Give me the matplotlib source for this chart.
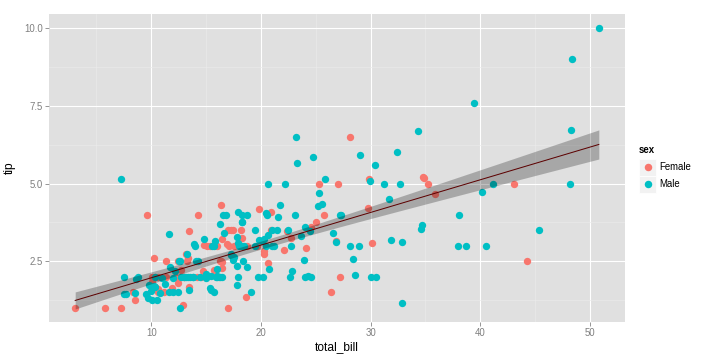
import numpy as np
import matplotlib
matplotlib.use("Agg")
import matplotlib.pyplot as plt
from matplotlib.patches import Rectangle

plt.rcParams['font.family'] = ['Liberation Sans', 'DejaVu Sans']

total_bill = [16.99,10.34,21.01,23.68,24.59,25.29,8.77,26.88,15.04,14.78,10.27,35.26,15.42,18.43,14.83,21.58,10.33,16.29,16.97,20.65,
17.92,20.29,15.77,39.42,19.82,17.81,13.37,12.69,21.70,19.65,9.55,18.35,15.06,20.69,17.78,24.06,16.31,16.93,18.69,31.27,
16.04,17.46,13.94,9.68,30.40,18.29,22.23,32.40,28.55,18.04,12.54,10.29,34.81,9.94,25.56,19.49,38.01,26.41,11.24,48.27,
20.29,13.81,11.02,18.29,17.59,20.08,16.45,3.07,20.23,15.01,12.02,17.07,26.86,25.28,14.73,10.51,17.92,27.20,22.76,17.29,
19.44,16.66,10.07,32.68,15.98,34.83,13.03,18.28,24.71,21.16,28.97,22.49,5.75,16.32,22.75,40.17,27.28,12.03,21.01,12.46,
11.35,15.38,44.30,22.42,20.92,15.36,20.49,25.21,18.24,14.31,14.00,7.25,38.07,23.95,25.71,17.31,29.93,10.65,12.43,24.08,
11.69,13.42,14.26,15.95,12.48,29.80,8.52,14.52,11.38,22.82,19.08,20.27,11.17,12.26,18.26,8.51,10.33,14.15,16.00,13.16,
17.47,34.30,41.19,27.05,16.43,8.35,18.64,11.87,9.78,7.51,14.07,13.13,17.26,24.55,19.77,29.85,48.17,25.00,13.39,16.49,
21.50,12.66,16.21,13.81,17.51,24.52,20.76,31.71,10.59,10.63,50.81,15.81,7.25,31.85,16.82,32.90,17.89,14.48,9.60,34.63,
34.65,23.33,45.35,23.17,40.55,20.69,20.90,30.46,18.15,23.10,15.69,19.81,28.44,15.48,16.58,7.56,10.34,43.11,13.00,13.51,
18.71,12.74,13.00,16.40,20.53,16.47,26.59,38.73,24.27,12.76,30.06,25.89,48.33,13.27,28.17,12.90,28.15,11.59,7.74,30.14,
12.16,13.42,8.58,15.98,13.42,16.27,10.09,20.45,13.28,22.12,24.01,15.69,11.61,10.77,15.53,10.07,12.60,32.83,35.83,29.03,
27.18,22.67,17.82,18.78]

tip = [1.01,1.66,3.50,3.31,3.61,4.71,2.00,3.12,1.96,3.23,1.71,5.00,1.57,3.00,3.02,3.92,1.67,3.71,3.50,3.35,
4.08,2.75,2.23,7.58,3.18,2.34,2.00,2.00,4.30,3.00,1.45,2.50,3.00,2.45,3.27,3.60,2.00,3.07,2.31,5.00,
2.24,2.54,3.06,1.32,5.60,3.00,5.00,6.00,2.05,3.00,2.50,2.60,5.20,1.56,4.34,3.51,3.00,1.50,1.76,6.73,
3.21,2.00,1.98,3.76,2.64,3.15,2.47,1.00,2.01,2.09,1.97,3.00,3.14,5.00,2.20,1.25,3.08,4.00,3.00,2.71,
3.00,3.40,1.83,5.00,2.03,5.17,2.00,4.00,5.85,3.00,3.00,3.50,1.00,4.30,3.25,4.73,4.00,1.50,3.00,1.50,
2.50,3.00,2.50,3.48,4.08,1.64,4.06,4.29,3.76,4.00,3.00,1.00,4.00,2.55,4.00,3.50,5.07,1.50,1.80,2.92,
2.31,1.68,2.50,2.00,2.52,4.20,1.48,2.00,2.00,2.18,1.50,2.83,1.50,2.00,3.25,1.25,2.00,2.00,2.00,2.75,
3.50,6.70,5.00,5.00,2.30,1.50,1.36,1.63,1.73,2.00,2.50,2.00,2.74,2.00,2.00,5.14,5.00,3.75,2.61,2.00,
3.50,2.50,2.00,2.00,3.00,3.48,2.24,4.50,1.61,2.00,10.00,3.16,5.15,3.18,4.00,3.11,2.00,2.00,4.00,3.55,
3.68,5.65,3.50,6.50,3.00,5.00,3.50,2.00,3.50,4.00,1.50,4.19,2.56,2.02,4.00,1.44,2.00,5.00,2.00,2.00,
4.00,2.01,2.00,2.50,4.00,3.23,3.41,3.00,2.03,2.23,2.00,5.16,9.00,2.50,6.50,1.10,3.00,1.50,1.44,3.09,
2.20,3.48,1.92,3.00,1.58,2.50,2.00,3.00,2.72,2.88,2.00,3.00,3.39,1.47,3.00,1.25,1.00,1.17,4.67,5.92,
2.00,2.00,1.75,3.00]

F, M = "Female", "Male"
sex = [F,M,M,M,F,M,M,M,M,M,M,F,M,M,F,M,F,M,F,M,
M,F,F,M,M,M,M,M,M,F,M,M,F,F,M,M,M,F,M,M,
M,M,M,M,M,M,M,M,M,M,M,F,F,M,M,M,M,F,M,M,
M,M,M,M,M,M,F,F,M,M,M,F,F,F,F,M,M,M,M,M,
M,M,F,M,M,F,M,M,M,M,M,M,F,F,F,M,M,M,M,M,
F,F,F,F,F,M,M,M,M,F,M,F,M,M,F,F,M,F,F,F,
M,F,M,M,F,F,M,F,F,M,M,F,F,F,F,F,F,F,M,F,
F,M,M,F,F,F,F,F,M,M,M,M,M,M,M,F,M,F,F,M,
M,M,F,M,F,M,M,M,F,F,M,M,M,M,M,M,M,M,F,M,
M,M,M,M,M,M,F,M,F,M,M,F,M,M,M,M,M,F,F,M,
M,F,F,F,M,F,M,M,M,F,M,M,M,F,F,F,M,M,M,F,
M,F,M,F,M,F,F,M,M,F,M,M,M,M,M,M,M,M,F,M,
F,M,M,F]

categories = ["Female", "Male"]
colors = {"Female": "#F8766D", "Male": "#00BFC4"}

x = np.array(total_bill)
y = np.array(tip)
s = np.array(sex)

W, H = 720, 360
fig = plt.figure(figsize=(10, 5), dpi=72)
ax = fig.add_axes([49/W, 38/H, (625-49)/W, (322-14)/H])
ax.set_facecolor("#E0E0E0")
for sp in ax.spines.values():
    sp.set_visible(False)

xlo, xhi = x.min(), x.max()
ylo, yhi = y.min(), y.max()
ax.set_xlim(xlo - 0.05*(xhi-xlo), xhi + 0.05*(xhi-xlo))
ax.set_ylim(ylo - 0.05*(yhi-ylo), yhi + 0.05*(yhi-ylo))

ax.set_xticks([10, 20, 30, 40, 50])
ax.set_yticks([2.5, 5.0, 7.5, 10.0])
ax.set_yticklabels(["2.5", "5.0", "7.5", "10.0"])
ax.set_xticks([5, 15, 25, 35, 45], minor=True)
ax.set_yticks([1.25, 3.75, 6.25, 8.75], minor=True)
ax.grid(True, which="major", color="white", linewidth=1.1)
ax.grid(True, which="minor", color="#EBEBEB", linewidth=0.6)
ax.set_axisbelow(True)
ax.tick_params(which="major", length=4, color="#7F7F7F", width=0.8, labelsize=9.6,
               labelcolor="#7F7F7F", pad=2)
ax.tick_params(which="minor", length=0)

for c in categories:
    m = s == c
    ax.scatter(x[m], y[m], s=54, color=colors[c], linewidths=0, zorder=3)

# linear regression with 95% confidence band
n = len(x)
b, a = np.polyfit(x, y, 1)
resid = y - (a + b*x)
se = np.sqrt(np.sum(resid**2) / (n - 2))
xm = x.mean()
sxx = np.sum((x - xm)**2)
tq = 1.9698
xs = np.linspace(xlo, xhi, 80)
ys = a + b*xs
band = tq * se * np.sqrt(1.0/n + (xs - xm)**2 / sxx)
ax.fill_between(xs, ys - band, ys + band, color="#000000", alpha=0.25, linewidth=0, zorder=4)
ax.plot(xs, ys, color="#5C0000", linewidth=1.0, zorder=5)

ax.set_xlabel("total_bill", fontsize=12, labelpad=3)
ax.set_ylabel("tip", fontsize=12, labelpad=8)

# legend (ggplot style with grey key boxes)
fig.text(639/W, 1 - 150/H, "sex", fontsize=9.6, fontweight="bold", va="center", ha="left")
for i, c in enumerate(categories):
    cy = 167 + 17*i
    fig.patches.append(Rectangle((639/W, 1 - (cy+8.5)/H), 17/W, 17/H, transform=fig.transFigure,
                                 facecolor="#F2F2F2", edgecolor="white", linewidth=0.8))
    fig.add_artist(plt.Line2D([647.5/W], [1 - cy/H], marker="o", markersize=7.5,
                              markeredgewidth=0, color=colors[c], transform=fig.transFigure))
    fig.text(659/W, 1 - cy/H, c, fontsize=9.6, va="center", ha="left")

fig.savefig("out.png", dpi=72)
